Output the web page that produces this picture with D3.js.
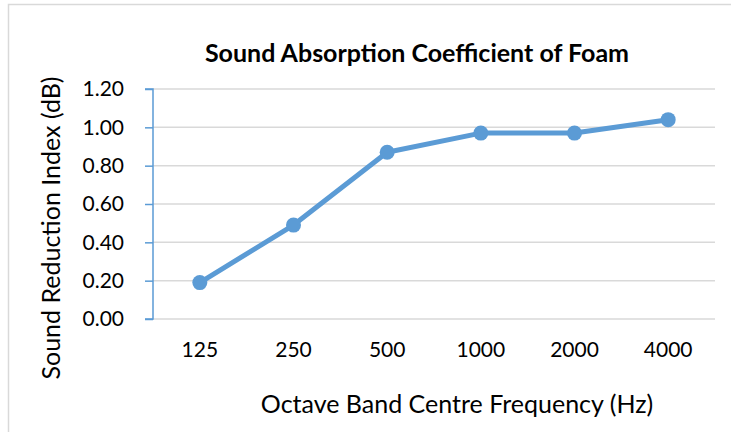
<!DOCTYPE html>
<html>
<head>
<meta charset="utf-8">
<script src="https://cdn.jsdelivr.net/npm/d3@7"></script>
<style>
  body { margin: 0; background: #fff; }
  text { font-family: Lato, "Open Sans", sans-serif; fill: #000; }
</style>
</head>
<body>
<div id="chart"></div>
<script>
// chart data
var frequencies = ["125", "250", "500", "1000", "2000", "4000"];
var coefficients = [0.19, 0.49, 0.87, 0.97, 0.97, 1.04];
var yTicks = [0, 0.2, 0.4, 0.6, 0.8, 1.0, 1.2];

var W = 731, H = 432;
var margin = {top: 89, right: 16, bottom: 113, left: 153};
var width = W - margin.left - margin.right;
var height = H - margin.top - margin.bottom;
var blue = "#5b9bd5";

var svg = d3.select("#chart").append("svg")
    .attr("width", W)
    .attr("height", H);

// outer chart border
svg.append("rect")
    .attr("x", 8.5).attr("y", 4.5)
    .attr("width", W + 20).attr("height", H + 20)
    .attr("fill", "none")
    .attr("stroke", "#d9d9d9")
    .attr("stroke-width", 1.5);

var g = svg.append("g")
    .attr("transform", "translate(" + margin.left + "," + margin.top + ")");

var x = d3.scaleBand().domain(frequencies).range([0, width]);
var y = d3.scaleLinear().domain([0, 1.2]).range([height, 0]);

// gridlines
g.selectAll(".grid")
    .data(yTicks)
    .enter().append("line")
    .attr("x1", 0).attr("x2", width)
    .attr("y1", function(d) { return y(d); })
    .attr("y2", function(d) { return y(d); })
    .attr("stroke", "#d9d9d9")
    .attr("stroke-width", 1.5);

// y axis
var yAxis = g.append("g")
    .call(d3.axisLeft(y).tickValues(yTicks).tickFormat(d3.format(".2f")).tickSize(8).tickPadding(21));
yAxis.select(".domain").attr("stroke", blue).attr("stroke-width", 1.5).attr("d", "M-8," + y(1.2) + "H0V" + y(0) + "H-8");
yAxis.selectAll(".tick line").attr("stroke", blue).attr("stroke-width", 1.5);
yAxis.selectAll(".tick text").style("font-size", "21px").attr("fill", "#000");

// x axis labels
var xAxis = g.append("g")
    .attr("transform", "translate(0," + height + ")")
    .call(d3.axisBottom(x).tickSize(0).tickPadding(23));
xAxis.select(".domain").remove();
xAxis.selectAll(".tick text").style("font-size", "21px").attr("fill", "#000");

// series line
var line = d3.line()
    .x(function(d, i) { return x(frequencies[i]) + x.bandwidth() / 2; })
    .y(function(d) { return y(d); });

g.append("path")
    .datum(coefficients)
    .attr("d", line)
    .attr("fill", "none")
    .attr("stroke", blue)
    .attr("stroke-width", 5)
    .attr("stroke-linejoin", "round");

g.selectAll(".dot")
    .data(coefficients)
    .enter().append("circle")
    .attr("cx", function(d, i) { return x(frequencies[i]) + x.bandwidth() / 2; })
    .attr("cy", function(d) { return y(d); })
    .attr("r", 7.5)
    .attr("fill", blue);

// titles
svg.append("text")
    .attr("x", 417).attr("y", 62)
    .attr("text-anchor", "middle")
    .style("font-size", "25px")
    .style("font-weight", "bold")
    .text("Sound Absorption Coefficient of Foam");

svg.append("text")
    .attr("x", 457).attr("y", 413)
    .attr("text-anchor", "middle")
    .style("font-size", "25px")
    .text("Octave Band Centre Frequency (Hz)");

svg.append("text")
    .attr("transform", "translate(60,228) rotate(-90)")
    .attr("text-anchor", "middle")
    .style("font-size", "25px")
    .text("Sound Reduction Index (dB)");
</script>
</body>
</html>
